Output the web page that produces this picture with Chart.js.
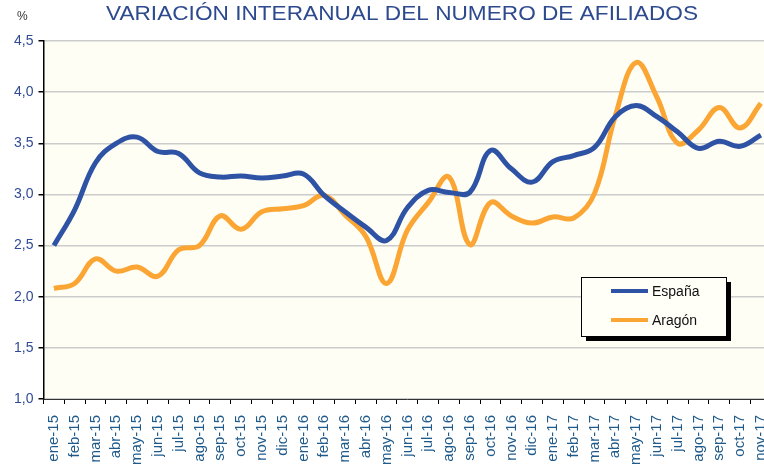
<!DOCTYPE html>
<html>
<head>
<meta charset="utf-8">
<script src="https://cdn.jsdelivr.net/npm/chart.js@4/dist/chart.umd.min.js"></script>
<style>
html,body{margin:0;padding:0;background:#fff;overflow:hidden;width:764px;height:465px;}
#wrap{position:absolute;left:0;top:0;width:790px;height:465px;}
</style>
</head>
<body>
<div id="wrap"><canvas id="c" width="790" height="465"></canvas></div>
<script>
const months = ['ene-15','feb-15','mar-15','abr-15','may-15','jun-15','jul-15','ago-15','sep-15','oct-15','nov-15','dic-15',
  'ene-16','feb-16','mar-16','abr-16','may-16','jun-16','jul-16','ago-16','sep-16','oct-16','nov-16','dic-16',
  'ene-17','feb-17','mar-17','abr-17','may-17','jun-17','jul-17','ago-17','sep-17','oct-17','nov-17'];
const espana = [2.50,2.85,3.31,3.50,3.56,3.42,3.40,3.21,3.17,3.18,3.16,3.18,
  3.20,2.99,2.83,2.68,2.55,2.87,3.04,3.02,3.02,3.43,3.25,3.12,
  3.32,3.38,3.46,3.76,3.87,3.76,3.61,3.45,3.52,3.47,3.58];
const aragon = [2.08,2.13,2.37,2.25,2.29,2.20,2.46,2.50,2.79,2.66,2.83,2.86,
  2.89,2.99,2.80,2.59,2.13,2.65,2.92,3.17,2.51,2.92,2.79,2.72,
  2.78,2.77,3.01,3.77,4.29,3.95,3.50,3.63,3.85,3.65,3.89];
const seriesNames = ['España','Aragón'];
const chartTitle = 'VARIACIÓN INTERANUAL DEL NUMERO DE AFILIADOS';
const unitLabel = '%';

const bgPlugin = {
  id:'bg',
  beforeDraw(chart){
    const {ctx, chartArea:a} = chart;
    ctx.save();
    ctx.fillStyle = '#FFFEF5';
    ctx.fillRect(a.left, a.top, a.right-a.left, a.bottom-a.top);
    ctx.restore();
  }
};
const textPlugin = {
  id:'texts',
  afterDraw(chart){
    const ctx = chart.ctx;
    ctx.save();
    ctx.fillStyle = '#2E4A8F';
    ctx.font = '20px "Liberation Sans", Arial, sans-serif';
    ctx.textAlign = 'left';
    ctx.textBaseline = 'alphabetic';
    const tw = ctx.measureText(chartTitle).width;
    const sx = 592 / tw;
    ctx.save();
    ctx.translate(106, 20);
    ctx.scale(sx, 1);
    ctx.fillText(chartTitle, 0, 0);
    ctx.restore();
    ctx.fillStyle = '#333';
    ctx.font = '12px "Liberation Sans", Arial, sans-serif';
    ctx.fillText(unitLabel, 17, 20);
    // legend
    const x0=581, y0=277, w=145, h=59;
    ctx.fillStyle = '#000';
    ctx.fillRect(x0+5, y0+5, w, h);
    ctx.fillStyle = '#FFFEF7';
    ctx.fillRect(x0, y0, w, h);
    ctx.strokeStyle = '#000';
    ctx.lineWidth = 1;
    ctx.strokeRect(x0+0.5, y0+0.5, w, h);
    const ys = [291, 320];
    chart.data.datasets.forEach((ds,i)=>{
      ctx.strokeStyle = ds.borderColor;
      ctx.lineWidth = 4;
      ctx.beginPath();
      ctx.moveTo(611, ys[i]); ctx.lineTo(648, ys[i]);
      ctx.stroke();
      ctx.fillStyle = '#111';
      ctx.font = '14px "Liberation Sans", Arial, sans-serif';
      ctx.textBaseline = 'middle';
      ctx.fillText(ds.label, 652, ys[i]+1);
    });
    ctx.restore();
  }
};

new Chart(document.getElementById('c'), {
  type:'line',
  data:{
    labels: months,
    datasets:[
      {label: seriesNames[0], data: espana, borderColor:'#2E52A4', borderWidth:5, pointRadius:0, tension:0.4, fill:false},
      {label: seriesNames[1], data: aragon, borderColor:'#FBA634', borderWidth:5, pointRadius:0, tension:0.4, fill:false}
    ]
  },
  options:{
    responsive:false,
    animation:false,
    devicePixelRatio:1,
    layout:{padding:{top:41, right:8, left:0, bottom:0}},
    plugins:{legend:{display:false}, title:{display:false}, tooltip:{enabled:false}},
    scales:{
      x:{
        type:'category',
        offset:true,
        grid:{drawOnChartArea:false, drawTicks:true, tickLength:5, tickColor:'#000', offset:true},
        border:{display:true, color:'#333', width:1},
        ticks:{minRotation:90, maxRotation:90, autoSkip:false, padding:11, color:'#1F5A8A',
          font:{family:'"Liberation Sans", Arial, sans-serif', size:15}},
        afterFit(s){ s.height = 66; }
      },
      y:{
        min:1, max:4.5,
        grid:{color:'#CCCCCC', lineWidth:1.5, tickLength:5, tickColor:'#000'},
        border:{display:true, color:'#000', width:1.5},
        ticks:{stepSize:0.5, padding:5, color:'#2F4B93',
          font:{family:'"Liberation Sans", Arial, sans-serif', size:14},
          callback:(v)=>Number(v).toFixed(1).replace('.',',')},
        afterFit(s){ s.width = 43.5; }
      }
    }
  },
  plugins:[bgPlugin, textPlugin]
});
</script>
</body>
</html>
